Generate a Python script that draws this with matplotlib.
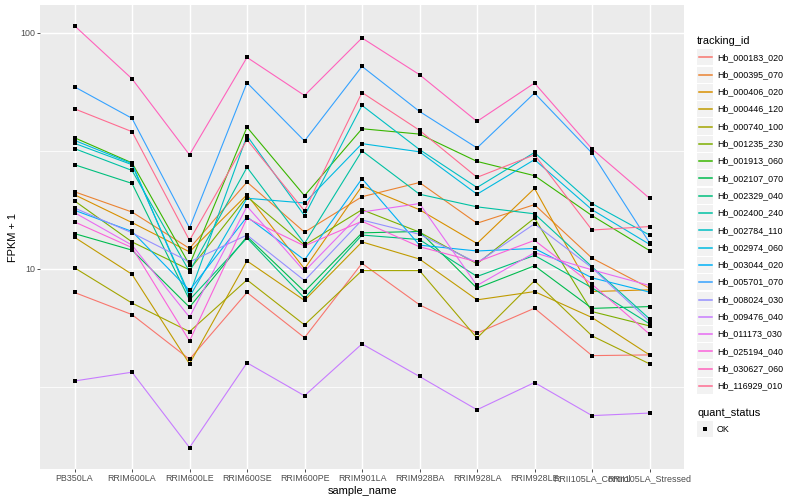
import matplotlib
matplotlib.use("Agg")
import matplotlib.pyplot as plt
from matplotlib.patches import Rectangle
from matplotlib.lines import Line2D
from matplotlib.ticker import NullLocator

plt.rcParams["font.family"] = ["Liberation Sans", "DejaVu Sans"]

samples = ["PB350LA", "RRIM600LA", "RRIM600LE", "RRIM600SE", "RRIM600PE",
           "RRIM901LA", "RRIM928BA", "RRIM928LA", "RRIM928LE",
           "RRII105LA_Control", "RRII105LA_Stressed"]

tracking_ids = ["Hb_000183_020", "Hb_000395_070", "Hb_000406_020", "Hb_000446_120",
                "Hb_000740_100", "Hb_001235_230", "Hb_001913_060", "Hb_002107_070",
                "Hb_002329_040", "Hb_002400_240", "Hb_002784_110", "Hb_002974_060",
                "Hb_003044_020", "Hb_005701_070", "Hb_008024_030", "Hb_009476_040",
                "Hb_011173_030", "Hb_025194_040", "Hb_030627_060", "Hb_116929_010"]

# ggplot hue palette for 20 levels
palette = ["#F8766D", "#EA8331", "#D89000", "#C09B00", "#A3A500", "#7CAE00",
           "#39B600", "#00BB4E", "#00BF7D", "#00C1A3", "#00BFC4", "#00BAE0",
           "#00B0F6", "#35A2FF", "#9590FF", "#C77CFF", "#E76BF3", "#FA62DB",
           "#FF62BC", "#FF6C91"]

# FPKM + 1, one list per gene, in sample order
hb_000183_020 = [7.94, 6.40, 4.14, 7.94, 5.11, 10.55, 7.04, 5.34, 6.81, 4.29, 4.32]
hb_000395_070 = [21.2, 17.4, 12.2, 23.3, 14.3, 20.2, 23.2, 15.6, 18.7, 11.1, 8.28]
hb_000406_020 = [20.6, 15.7, 11.8, 20.6, 10.0, 22.4, 17.8, 12.8, 21.9, 8.01, 8.15]
hb_000446_120 = [13.6, 9.48, 3.96, 10.8, 7.35, 13.0, 11.0, 7.39, 8.01, 6.22, 4.32]
hb_000740_100 = [10.1, 7.16, 5.42, 8.98, 5.79, 9.83, 9.83, 5.09, 8.90, 5.20, 3.96]
hb_001235_230 = [19.4, 13.0, 9.90, 20.2, 12.6, 17.8, 14.3, 10.5, 16.4, 6.59, 5.73]
hb_001913_060 = [35.9, 28.1, 10.4, 39.8, 20.4, 39.2, 37.2, 28.5, 24.8, 16.8, 11.95]
hb_002107_070 = [14.1, 12.0, 6.88, 13.7, 8.01, 14.2, 14.4, 8.28, 10.3, 6.80, 6.92]
hb_002329_040 = [27.6, 23.0, 7.39, 13.5, 7.51, 13.9, 13.3, 9.28, 11.4, 8.31, 5.85]
hb_002400_240 = [32.3, 26.1, 9.74, 26.9, 12.8, 31.6, 20.7, 18.3, 17.1, 10.2, 6.14]
hb_002784_110 = [34.0, 27.6, 7.76, 36.6, 16.8, 49.2, 32.0, 22.1, 31.1, 18.9, 13.9]
hb_002974_060 = [35.0, 27.9, 7.61, 19.9, 19.0, 33.9, 31.3, 20.7, 29.0, 17.8, 12.7]
hb_003044_020 = [17.7, 14.4, 8.11, 16.6, 10.9, 24.1, 12.6, 11.9, 12.2, 9.16, 7.97]
hb_005701_070 = [59.0, 43.4, 14.9, 61.4, 34.8, 72.0, 46.4, 32.5, 55.5, 30.9, 12.9]
hb_008024_030 = [18.1, 14.2, 10.7, 13.9, 8.92, 16.1, 14.0, 10.6, 15.5, 10.1, 5.98]
hb_009476_040 = [3.35, 3.65, 1.75, 4.00, 2.90, 4.81, 3.50, 2.53, 3.30, 2.39, 2.45]
hb_011173_030 = [17.3, 12.6, 6.24, 18.4, 9.76, 17.4, 18.9, 8.50, 11.7, 9.90, 8.50]
hb_025194_040 = [15.8, 12.3, 4.95, 16.4, 12.5, 15.9, 12.4, 10.7, 13.2, 8.60, 5.29]
hb_030627_060 = [107, 63.8, 30.4, 78.6, 54.2, 95.0, 66.4, 42.1, 61.2, 32.2, 19.9]
hb_116929_010 = [47.6, 38.1, 13.2, 35.2, 17.6, 55.8, 38.6, 24.4, 30.4, 14.6, 15.1]

series = [hb_000183_020, hb_000395_070, hb_000406_020, hb_000446_120, hb_000740_100,
          hb_001235_230, hb_001913_060, hb_002107_070, hb_002329_040, hb_002400_240,
          hb_002784_110, hb_002974_060, hb_003044_020, hb_005701_070, hb_008024_030,
          hb_009476_040, hb_011173_030, hb_025194_040, hb_030627_060, hb_116929_010]

W, H = 800, 500
fig = plt.figure(figsize=(8, 5), dpi=100)
ax = fig.add_axes([40 / W, 31 / H, 644 / W, 464 / H])
ax.set_facecolor("#EBEBEB")
for s in ax.spines.values():
    s.set_visible(False)

x = list(range(len(samples)))
ax.set_yscale("log")
ax.set_ylim(1.42, 131)
ax.set_xlim(-0.6, len(samples) - 0.4)

# grid
for g in [10 ** 0.5, 10 ** 1.5]:
    ax.axhline(g, color="white", lw=0.55, zorder=0.5)
for g in [10, 100]:
    ax.axhline(g, color="white", lw=1.05, zorder=0.6)
for xi in x:
    ax.axvline(xi, color="white", lw=1.05, zorder=0.6)

for vals, col in zip(series, palette):
    ax.plot(x, vals, color=col, lw=0.8, zorder=2)
for vals in series:
    ax.plot(x, vals, "s", color="black", ms=2.8, mew=0, zorder=3)

ax.set_xticks(x)
ax.set_xticklabels(samples)
ax.set_yticks([10, 100])
ax.set_yticklabels(["10", "100"])
ax.yaxis.set_minor_locator(NullLocator())
ax.tick_params(axis="both", labelsize=6.4, labelcolor="#4D4D4D", color="#333333",
               length=2, width=0.6, pad=1.6)
ax.set_xlabel("sample_name", fontsize=7.9, labelpad=2)
ax.set_ylabel("FPKM + 1", fontsize=7.9, labelpad=1.5)

# legend, drawn in pixel coordinates of the figure
def fx(px):
    return px / W

def fy(py):
    return 1 - py / H

fig.text(fx(697), fy(40.5), "tracking_id", fontsize=7.9, va="center", ha="left")
step = 17.3
key = 16
for i, (name, col) in enumerate(zip(tracking_ids, palette)):
    cy = 57.3 + i * step
    fig.add_artist(Rectangle((fx(697), fy(cy + key / 2)), key / W, key / H,
                             transform=fig.transFigure, facecolor="#F2F2F2",
                             edgecolor="none", zorder=1))
    fig.add_artist(Line2D([fx(698.5), fx(711.5)], [fy(cy), fy(cy)],
                          transform=fig.transFigure, color=col, lw=1.1, zorder=3))
    fig.text(fx(717), fy(cy), name, fontsize=6.4, va="center", ha="left")

fig.text(fx(697), fy(412.5), "quant_status", fontsize=7.9, va="center", ha="left")
cy = 429
fig.add_artist(Rectangle((fx(697), fy(cy + key / 2)), key / W, key / H,
                         transform=fig.transFigure, facecolor="#F2F2F2",
                         edgecolor="none", zorder=1))
fig.add_artist(Line2D([fx(705)], [fy(cy)], transform=fig.transFigure, marker="s",
                      color="black", ms=2.8, mew=0, lw=0, zorder=3))
fig.text(fx(717), fy(cy), "OK", fontsize=6.4, va="center", ha="left")

fig.savefig("out.png", dpi=100)
